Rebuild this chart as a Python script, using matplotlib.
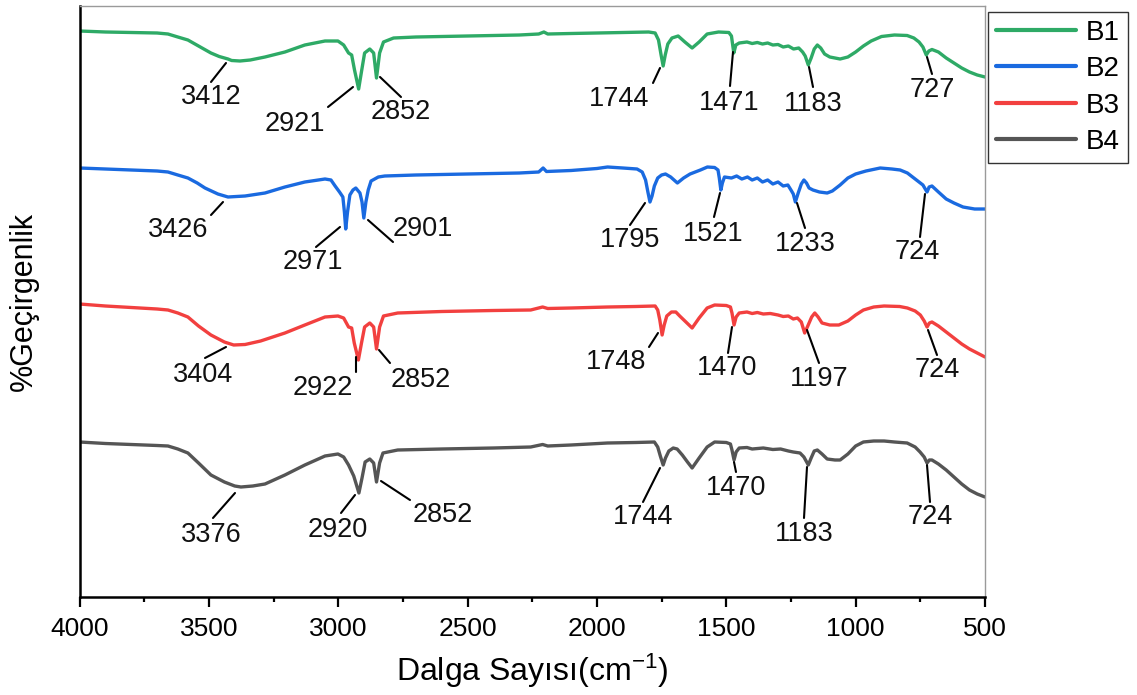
import matplotlib
matplotlib.use("Agg")
import matplotlib.pyplot as plt
from matplotlib.ticker import MultipleLocator

plt.rcParams['font.family'] = ['Liberation Sans', 'DejaVu Sans']
plt.rcParams['mathtext.fontset'] = 'custom'
plt.rcParams['mathtext.rm'] = 'Liberation Sans'
plt.rcParams['mathtext.it'] = 'Liberation Sans:italic'

# ---- FTIR spectra: wavenumber (cm-1) and stacked transmittance (a.u.) ----
b1_wn = [4000, 3900, 3800, 3700, 3658, 3620, 3581, 3540, 3492, 3460, 3426, 3412, 3380,
         3340, 3283, 3206, 3129, 3051, 3001, 2979, 2960, 2948, 2937, 2921, 2909, 2898,
         2878, 2863, 2852, 2840, 2825, 2786, 2700, 2600, 2500, 2400, 2300, 2225, 2205,
         2190, 2100, 2000, 1900, 1800, 1775, 1762, 1752, 1744, 1736, 1726, 1710, 1686,
         1660, 1632, 1605, 1574, 1530, 1490, 1480, 1471, 1463, 1450, 1420, 1400, 1380,
         1360, 1340, 1320, 1300, 1280, 1260, 1240, 1220, 1205, 1195, 1183, 1172, 1160,
         1148, 1135, 1120, 1100, 1060, 1030, 1000, 970, 940, 900, 850, 801, 775, 755,
         740, 727, 717, 705, 680, 650, 620, 590, 560, 530, 500]
b1_t = [569, 568, 567.5, 567, 566, 563, 560, 554, 547, 543.5, 541, 539.5, 539,
        540, 543, 548, 555, 559, 559, 555, 547, 545, 530, 511, 530, 547,
        551, 547, 522, 547, 558, 562, 563, 563.5, 564, 564.5, 565, 566, 568,
        566, 566.5, 567, 567.5, 568, 567, 560, 545, 534, 545, 556, 562, 564,
        558, 552, 558, 566, 568, 567.5, 564, 547, 555, 557, 558, 556.5, 557.5,
        556, 557, 555, 555.5, 553, 554, 551, 552, 548, 544, 535, 542, 551,
        555, 552, 546, 543, 541, 543, 548, 554, 559, 563.5, 565, 564.5, 562, 558,
        553, 545, 549, 550.5, 548, 542, 537, 532, 528, 525, 523]

b2_wn = [4000, 3900, 3800, 3700, 3658, 3620, 3581, 3545, 3515, 3465, 3426, 3360, 3283,
         3206, 3129, 3051, 3028, 3012, 2995, 2982, 2976, 2971, 2964, 2955, 2943, 2932,
         2916, 2908, 2901, 2893, 2884, 2873, 2845, 2820, 2700, 2600, 2500, 2400, 2300,
         2225, 2208, 2195, 2100, 2000, 1959, 1900, 1845, 1825, 1812, 1803, 1795, 1787,
         1778, 1765, 1750, 1735, 1715, 1689, 1665, 1640, 1600, 1573, 1545, 1532, 1527,
         1521, 1515, 1507, 1480, 1460, 1440, 1418, 1400, 1380, 1360, 1340, 1320, 1300,
         1280, 1262, 1250, 1241, 1233, 1222, 1210, 1200, 1190, 1180, 1165, 1140, 1110,
         1090, 1060, 1030, 1000, 960, 905, 860, 828, 800, 780, 760, 740, 724, 716, 705,
         680, 650, 620, 585, 540, 500]
b2_t = [432, 431, 430, 429, 428, 425, 422, 417, 412, 406, 403, 404, 407,
        413, 418, 421, 420, 414, 408, 403, 388, 371, 388, 405, 410, 412,
        407, 398, 382, 398, 410, 419, 423, 424, 425, 425.5, 426, 426.5, 427,
        428, 432, 428.5, 429.5, 431.5, 433, 432, 431, 428, 420, 408, 398, 404,
        414, 422, 425, 426, 423, 417, 422, 426, 430, 433, 432.5, 430, 422,
        410, 417, 423, 422, 424, 421, 423, 420, 422, 418, 420, 416, 418,
        414, 415, 410, 406, 398, 407, 416, 420, 417, 412, 410, 408, 407,
        409, 415, 422, 426, 429, 432, 431, 430, 427, 423, 419, 415, 408, 413, 414,
        408, 401, 397, 393, 391, 391]

b3_wn = [4000, 3900, 3800, 3700, 3658, 3620, 3581, 3540, 3492, 3440, 3404, 3360, 3300,
         3206, 3129, 3051, 3001, 2979, 2960, 2948, 2938, 2922, 2910, 2898, 2878, 2863,
         2852, 2840, 2825, 2770, 2600, 2400, 2256, 2210, 2190, 2100, 1959, 1850, 1775,
         1765, 1757, 1748, 1740, 1730, 1712, 1695, 1680, 1660, 1632, 1605, 1574, 1545,
         1500, 1484, 1478, 1470, 1462, 1450, 1420, 1400, 1380, 1357, 1330, 1300, 1280,
         1260, 1241, 1225, 1210, 1197, 1185, 1170, 1158, 1145, 1130, 1100, 1065, 1030,
         1000, 970, 930, 890, 830, 800, 770, 750, 735, 724, 715, 705, 680, 650, 620,
         590, 560, 530, 500]
b3_t = [296, 294, 292.5, 291, 290, 287, 283, 274, 265, 258, 255, 255.5, 259,
        267, 275, 283, 284, 282, 273, 272, 257, 240, 257, 273, 277, 273,
        251, 273, 284, 287, 288.5, 289.5, 290, 293, 291.5, 292, 293, 293.5, 294,
        290, 280, 265, 275, 284, 288, 288, 284, 279, 272, 282, 292, 295,
        294.5, 293, 287, 275, 283, 287, 288, 286.5, 287.5, 286, 286.5, 285, 283.5,
        284, 281, 282, 278, 267, 274, 283, 287, 283, 277, 275, 275, 279,
        285, 290, 293, 294, 293.5, 292, 289, 285, 279, 273, 277, 278, 274, 268, 262,
        256, 251, 247, 243]

b4_wn = [4000, 3900, 3800, 3700, 3658, 3620, 3581, 3540, 3492, 3440, 3400, 3376, 3330,
         3283, 3206, 3129, 3051, 3001, 2979, 2960, 2940, 2920, 2908, 2896, 2878, 2863,
         2852, 2840, 2827, 2770, 2600, 2400, 2256, 2210, 2190, 2100, 1959, 1850, 1778,
         1765, 1755, 1744, 1735, 1722, 1705, 1690, 1670, 1650, 1632, 1605, 1574, 1545,
         1500, 1484, 1478, 1470, 1462, 1450, 1420, 1400, 1357, 1320, 1290, 1260, 1241,
         1215, 1200, 1183, 1172, 1160, 1148, 1130, 1110, 1080, 1060, 1030, 1000, 970,
         930, 890, 850, 801, 770, 751, 735, 724, 715, 705, 680, 650, 620, 590, 560,
         530, 500]
b4_t = [158, 156.5, 155.5, 154.5, 154, 151, 147, 137, 125, 118, 114, 113, 114,
        116, 125, 135, 144, 146, 143, 135, 124, 107, 122, 138, 141, 137,
        118, 137, 147, 150, 151, 152, 153, 155.5, 154, 155, 157, 157.5, 158,
        153, 144, 135, 142, 149, 152, 151, 145, 138, 132, 142, 153, 158,
        157.5, 156, 150, 140, 148, 152, 152.5, 151, 152, 150.5, 151, 149, 148,
        147, 143, 135, 142, 149, 150, 146, 141, 140, 140, 146, 154, 158,
        159, 159, 158, 157, 153, 148, 143, 137, 140, 140, 136, 130, 123, 116, 110,
        106, 103]

series_names = ['B1', 'B2', 'B3', 'B4']
series_colors = ['#2EAA66', '#1A6AE0', '#F2403F', '#555555']
series_wn = [b1_wn, b2_wn, b3_wn, b4_wn]
series_t = [b1_t, b2_t, b3_t, b4_t]

xticks = [4000, 3500, 3000, 2500, 2000, 1500, 1000, 500]

# peak labels: value, leader start, leader end, text centre (figure pixels from top-left)
peak_labels = [
    (3412, (226, 63), (211, 82), (211, 95)),
    (2921, (353, 87), (328, 107), (295, 122)),
    (2852, (380, 77), (401, 97), (401, 110)),
    (1744, (660, 68), (653, 83), (619, 97)),
    (1471, (733, 52), (730, 86), (729, 101)),
    (1183, (809, 67), (813, 87), (813, 102)),
    (727, (927, 57), (932, 74), (932, 88)),
    (3426, (223, 202), (211, 215), (178, 228)),
    (2971, (340, 227), (316, 247), (313, 260)),
    (2901, (368, 220), (393, 242), (423, 227)),
    (1795, (645, 203), (630, 225), (630, 238)),
    (1521, (720, 193), (714, 217), (713, 232)),
    (1233, (797, 203), (805, 228), (805, 242)),
    (724, (925, 194), (920, 237), (917, 250)),
    (3404, (226, 347), (205, 358), (203, 373)),
    (2922, (356, 357), (356, 372), (323, 386)),
    (2852, (379, 350), (390, 363), (421, 378)),
    (1748, (658, 333), (649, 347), (616, 360)),
    (1470, (732, 327), (728, 353), (727, 366)),
    (1197, (807, 330), (819, 363), (819, 377)),
    (724, (928, 330), (937, 355), (937, 368)),
    (3376, (235, 493), (213, 518), (211, 533)),
    (2920, (355, 495), (341, 513), (338, 528)),
    (2852, (381, 481), (410, 500), (443, 513)),
    (1744, (660, 468), (643, 502), (643, 515)),
    (1470, (734, 462), (736, 472), (736, 486)),
    (1183, (807, 467), (804, 518), (804, 532)),
    (724, (927, 465), (930, 502), (930, 515)),
]

W, H = 1137, 695
fig = plt.figure(figsize=(W / 100, H / 100), dpi=100)
ax = fig.add_axes([79.5 / W, 1 - 597 / H, (985 - 79.5) / W, (597 - 6) / H])

for name, color, wn, t in zip(series_names, series_colors, series_wn, series_t):
    ax.plot(wn, t, color=color, lw=2.4, label=name,
            solid_joinstyle='round', solid_capstyle='round')

ax.set_xlim(4000, 500)
ax.set_ylim(3, 594)
ax.set_xticks(xticks)
ax.set_xticklabels([str(v) for v in xticks])
ax.xaxis.set_minor_locator(MultipleLocator(250))
ax.set_yticks([])
ax.tick_params(axis='x', which='major', direction='out', length=7.2, width=1.6,
               labelsize=19, pad=7)
ax.tick_params(axis='x', which='minor', direction='out', length=3.6, width=1.6)

for side in ['left', 'bottom']:
    ax.spines[side].set_color('black')
    ax.spines[side].set_linewidth(1.8)
for side in ['top', 'right']:
    ax.spines[side].set_color('#9a9a9a')
    ax.spines[side].set_linewidth(1.0)

ax.set_xlabel('Dalga Sayısı(cm$^{-1}$)', fontsize=23, labelpad=8)
ax.set_ylabel('%Geçirgenlik', fontsize=22, labelpad=29)

for value, (x1, y1), (x2, y2), (tx, ty) in peak_labels:
    ax.annotate('', xy=(x1, H - y1), xycoords='figure pixels',
                xytext=(x2, H - y2), textcoords='figure pixels',
                arrowprops=dict(arrowstyle='-', color='black', lw=1.5,
                                shrinkA=0, shrinkB=0))
    fig.text(tx / W, 1 - (ty + 9) / H, str(value), ha='center', va='baseline',
             fontsize=19.5, color='#111111')

leg = fig.legend(loc='upper left', bbox_to_anchor=(988 / W, 1 - 12 / H),
                 bbox_transform=fig.transFigure, borderaxespad=0, fontsize=20,
                 frameon=True, fancybox=False, framealpha=1, edgecolor='#333333',
                 handlelength=2.88, handletextpad=0.38, labelspacing=0.38,
                 borderpad=0.27)
leg.get_frame().set_linewidth(1.0)
for line in leg.get_lines():
    line.set_linewidth(3)

fig.savefig('out.png', dpi=100)
